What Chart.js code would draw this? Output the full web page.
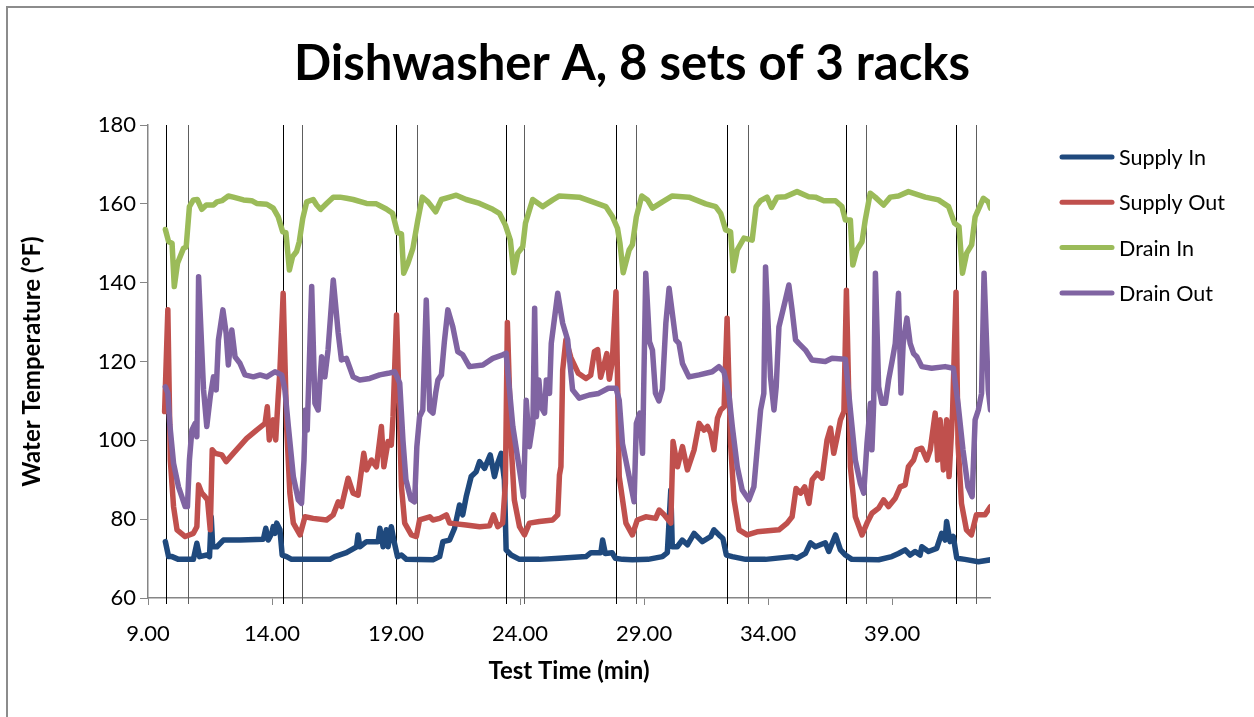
<!DOCTYPE html>
<html>
<head>
<meta charset="utf-8">
<script src="https://cdn.jsdelivr.net/npm/chart.js@4.4.0/dist/chart.umd.min.js"></script>
<style>
  html, body { margin: 0; padding: 0; background: #fff; overflow: hidden; }
  #wrap { position: relative; width: 1254px; height: 717px; }
  #frame { position: absolute; left: 6px; top: 6px; width: 1300px; height: 800px; border: 2px solid #8c8c8c; }
  #chart { position: absolute; left: 0; top: 0; }
</style>
</head>
<body>
<div id="wrap">
  <div id="frame"></div>
  <canvas id="chart" width="1254" height="717"></canvas>
</div>
<script>
// test time (min), temperature (°F)
const supplyIn = [
  [9.70,74.3],[9.83,70.5],[9.97,70.5],[10.23,69.8],[10.83,69.8],[10.97,73.9],[11.08,70.5],[11.37,70.9],
  [11.48,70.5],[11.55,80.6],[11.61,73.0],[11.78,73.0],[12.04,74.7],[12.71,74.7],[13.65,74.9],[13.75,77.7],
  [13.85,74.7],[13.99,76.4],[14.05,78.1],[14.12,76.4],[14.19,79.0],[14.32,77.3],[14.41,70.9],[14.59,70.5],
  [14.79,69.8],[15.13,69.8],[16.33,69.8],[16.53,70.5],[17.00,71.5],[17.41,73.0],[17.47,76.0],[17.54,73.0],
  [17.81,74.3],[18.28,74.3],[18.35,77.7],[18.48,73.0],[18.61,77.3],[18.68,73.0],[18.81,78.1],[18.91,74.7],
  [19.06,70.5],[19.22,70.9],[19.42,69.8],[20.49,69.7],[20.76,70.5],[20.89,74.3],[21.16,74.7],[21.36,77.7],
  [21.56,83.6],[21.69,81.1],[21.83,85.7],[22.03,90.8],[22.23,92.0],[22.37,94.6],[22.57,92.9],[22.80,96.3],
  [22.97,90.8],[23.10,94.2],[23.24,96.7],[23.37,89.9],[23.44,72.2],[23.64,70.9],[23.98,69.8],[24.78,69.8],
  [25.59,70.1],[26.66,70.5],[26.86,71.5],[27.26,71.5],[27.33,74.7],[27.44,71.3],[27.71,71.5],[27.84,70.1],
  [28.13,69.8],[28.53,69.7],[29.16,69.8],[29.74,70.5],[29.94,71.5],[30.08,87.4],[30.14,73.0],[30.34,73.0],
  [30.54,74.7],[30.75,73.5],[31.02,76.4],[31.35,74.3],[31.69,75.6],[31.82,77.3],[32.02,76.0],[32.18,75.1],
  [32.32,70.9],[32.56,70.5],[33.10,69.8],[33.90,69.8],[34.97,70.5],[35.17,70.1],[35.51,71.3],[35.71,74.0],
  [35.91,73.0],[36.31,74.0],[36.45,71.8],[36.72,76.0],[36.92,72.2],[37.12,70.9],[37.38,69.8],[38.46,69.7],
  [38.99,70.5],[39.26,71.3],[39.53,72.2],[39.73,70.9],[39.93,71.8],[40.13,70.9],[40.20,73.0],[40.47,71.8],
  [40.80,72.6],[41.00,76.4],[41.14,74.7],[41.20,79.4],[41.34,74.3],[41.47,75.6],[41.61,70.1],[41.94,69.8],
  [42.48,69.2],[42.97,69.7]
];
const supplyOut = [
  [9.67,107.3],[9.80,133.1],[9.90,95.0],[10.03,83.2],[10.17,77.3],[10.50,75.6],[10.83,76.4],[10.97,78.1],
  [11.04,88.7],[11.17,86.6],[11.30,85.7],[11.40,84.9],[11.51,77.3],[11.59,97.6],[11.71,96.7],[11.98,96.3],
  [12.15,94.6],[12.44,96.7],[12.98,100.5],[13.38,102.6],[13.72,104.3],[13.81,108.5],[13.89,100.1],[14.05,105.2],
  [14.15,100.1],[14.25,111.1],[14.32,117.8],[14.45,137.3],[14.59,103.5],[14.72,86.6],[14.86,79.0],[15.13,76.0],
  [15.33,80.6],[15.66,80.2],[16.20,79.8],[16.47,81.1],[16.67,84.4],[16.80,83.2],[17.07,90.4],[17.27,86.6],
  [17.47,86.1],[17.70,96.7],[17.81,92.5],[18.01,95.0],[18.21,93.3],[18.41,103.5],[18.51,93.3],[18.68,99.7],
  [18.81,98.8],[18.88,106.0],[19.02,131.8],[19.22,88.2],[19.35,79.0],[19.62,76.0],[19.82,75.6],[19.95,79.8],
  [20.36,80.6],[20.49,79.8],[20.76,80.2],[21.03,81.1],[21.16,79.0],[21.83,78.5],[22.37,78.1],[22.77,78.3],
  [22.93,81.1],[23.10,78.1],[23.30,79.0],[23.41,89.1],[23.49,129.9],[23.64,99.2],[23.77,84.9],[23.98,78.1],
  [24.18,76.0],[24.38,79.0],[24.78,79.4],[25.32,79.8],[25.52,81.1],[25.59,91.2],[25.65,93.3],[25.72,117.8],
  [25.85,125.5],[26.05,121.0],[26.35,117.0],[26.66,115.7],[26.85,116.5],[27.00,122.5],[27.13,123.0],[27.25,116.0],
  [27.40,119.5],[27.50,122.0],[27.60,115.5],[27.72,120.0],[27.87,137.7],[28.00,90.8],[28.27,79.0],[28.53,76.0],
  [28.73,79.8],[29.07,80.6],[29.47,80.2],[29.61,82.3],[29.81,81.1],[30.08,79.0],[30.17,99.7],[30.35,93.3],
  [30.55,98.4],[30.75,92.5],[31.02,97.6],[31.22,104.3],[31.42,102.6],[31.56,103.5],[31.69,101.8],[31.82,97.6],
  [31.96,105.6],[32.09,107.7],[32.23,108.5],[32.35,131.0],[32.49,99.2],[32.63,84.9],[32.83,77.3],[33.16,76.0],
  [33.56,76.8],[34.44,77.3],[34.77,79.0],[34.97,80.6],[35.13,87.8],[35.31,86.6],[35.48,88.2],[35.65,84.0],
  [35.78,90.0],[35.98,91.6],[36.18,90.4],[36.38,100.1],[36.52,103.1],[36.65,96.7],[36.79,100.9],[36.92,105.2],
  [37.06,107.3],[37.16,138.1],[37.32,93.3],[37.52,80.6],[37.79,76.0],[37.99,79.0],[38.19,81.5],[38.46,82.8],
  [38.66,84.9],[38.86,83.2],[39.13,85.3],[39.33,88.2],[39.53,88.7],[39.66,93.3],[39.87,95.0],[40.00,97.6],
  [40.20,98.0],[40.40,95.0],[40.54,97.6],[40.74,106.9],[40.84,95.0],[40.94,105.2],[41.07,92.5],[41.20,105.2],
  [41.30,90.8],[41.44,106.9],[41.58,137.6],[41.66,99.2],[41.80,84.0],[42.00,77.3],[42.20,76.0],[42.40,81.1],
  [42.75,81.1],[42.97,83.2]
];
const drainIn = [
  [9.70,153.5],[9.83,150.4],[9.97,150.0],[10.06,139.0],[10.19,144.9],[10.43,148.7],[10.54,149.1],[10.67,159.3],
  [10.83,161.0],[10.99,161.1],[11.17,158.6],[11.35,159.7],[11.64,159.7],[11.78,160.5],[11.98,160.8],[12.24,162.0],
  [12.44,161.7],[12.85,161.0],[13.18,160.8],[13.38,160.1],[13.79,159.9],[14.05,158.9],[14.25,156.7],[14.43,152.9],
  [14.56,152.7],[14.70,143.2],[14.83,146.6],[14.99,147.9],[15.10,150.4],[15.24,156.3],[15.40,160.5],[15.66,161.1],
  [15.80,159.7],[15.96,158.6],[16.20,160.1],[16.47,161.7],[16.74,161.7],[17.01,161.4],[17.27,161.1],[17.81,160.1],
  [18.21,160.0],[18.61,158.7],[18.86,157.6],[19.06,152.7],[19.22,152.4],[19.31,142.4],[19.48,144.9],[19.68,148.7],
  [19.88,155.9],[20.06,161.7],[20.29,160.5],[20.60,158.0],[20.83,161.1],[21.16,161.7],[21.43,162.2],[21.83,161.1],
  [22.37,160.1],[22.90,158.6],[23.17,157.6],[23.41,154.6],[23.61,150.8],[23.75,142.5],[23.91,147.5],[24.11,149.1],
  [24.22,155.1],[24.51,161.1],[24.91,159.3],[25.32,161.0],[25.59,162.0],[26.39,161.7],[26.93,160.5],[27.46,159.3],
  [27.73,156.7],[27.93,153.8],[28.03,150.0],[28.16,142.5],[28.40,148.3],[28.53,149.6],[28.69,156.7],[28.91,162.0],
  [29.14,161.0],[29.34,158.9],[29.74,160.5],[30.14,162.0],[30.81,161.7],[31.49,160.0],[31.89,159.3],[32.09,157.6],
  [32.29,153.4],[32.49,152.9],[32.60,143.0],[32.76,148.3],[33.03,151.3],[33.36,150.8],[33.52,159.3],[33.70,160.8],
  [33.96,161.7],[34.14,159.1],[34.37,161.7],[34.70,161.8],[35.17,163.1],[35.64,161.8],[35.91,161.7],[36.25,160.8],
  [36.72,160.8],[36.98,159.3],[37.12,155.9],[37.32,155.9],[37.42,144.5],[37.58,148.3],[37.79,150.4],[37.92,155.9],
  [38.12,162.7],[38.32,161.7],[38.66,159.7],[38.93,161.7],[39.26,162.0],[39.66,163.1],[40.34,161.7],[40.87,161.0],
  [41.28,159.3],[41.52,155.1],[41.70,154.2],[41.84,142.4],[42.01,147.5],[42.21,149.6],[42.35,156.7],[42.68,161.4],
  [42.88,160.5],[42.97,158.9]
];
const drainOut = [
  [9.70,113.6],[9.80,112.0],[9.88,104.0],[10.03,94.2],[10.23,88.2],[10.50,83.2],[10.59,83.2],[10.67,95.0],
  [10.77,102.6],[10.90,104.3],[10.97,100.9],[11.04,141.5],[11.24,112.8],[11.37,103.5],[11.51,111.1],[11.64,116.1],
  [11.75,112.8],[11.84,125.5],[12.02,133.1],[12.15,127.2],[12.24,119.1],[12.38,128.0],[12.51,121.2],[12.71,119.5],
  [12.91,116.6],[13.25,116.1],[13.52,116.6],[13.79,116.1],[14.12,117.4],[14.39,116.6],[14.52,112.8],[14.66,103.5],
  [14.86,90.8],[15.06,84.9],[15.19,84.0],[15.29,95.0],[15.35,107.7],[15.42,102.6],[15.60,139.0],[15.73,109.4],
  [15.86,107.7],[16.00,121.2],[16.13,116.1],[16.26,122.9],[16.47,140.7],[16.67,127.2],[16.80,120.4],[17.00,120.8],
  [17.27,116.1],[17.54,115.3],[17.94,115.7],[18.34,116.6],[18.68,117.0],[18.95,117.4],[19.15,114.5],[19.28,100.0],
  [19.40,90.0],[19.60,85.0],[19.75,84.4],[19.84,98.4],[19.95,106.0],[20.08,107.7],[20.22,135.6],[20.36,107.7],
  [20.49,106.9],[20.60,112.0],[20.69,115.3],[20.83,116.6],[20.95,125.0],[21.09,133.1],[21.29,128.8],[21.49,122.5],
  [21.69,121.7],[21.96,118.7],[22.50,119.1],[22.90,120.8],[23.30,121.7],[23.44,122.1],[23.71,103.5],[23.98,92.5],
  [24.14,85.7],[24.25,110.2],[24.38,98.4],[24.52,104.3],[24.59,133.5],[24.66,106.0],[24.76,115.3],[24.85,108.5],
  [24.99,106.9],[25.06,115.3],[25.19,111.9],[25.26,124.6],[25.52,137.3],[25.72,129.7],[25.92,125.5],[26.12,112.8],
  [26.39,110.7],[26.79,111.5],[27.17,111.9],[27.56,113.2],[27.87,113.2],[28.00,110.2],[28.13,99.2],[28.40,90.8],
  [28.60,84.4],[28.69,104.3],[28.83,106.9],[28.94,96.7],[29.07,142.4],[29.22,125.0],[29.34,122.9],[29.46,112.0],
  [29.60,110.0],[29.74,113.0],[29.88,129.7],[30.01,138.6],[30.28,125.5],[30.41,124.6],[30.55,119.5],[30.81,116.1],
  [31.22,116.6],[31.75,117.4],[32.02,118.7],[32.22,117.4],[32.42,111.9],[32.56,103.5],[32.76,93.3],[32.96,87.4],
  [33.23,84.9],[33.43,88.2],[33.56,97.6],[33.70,107.7],[33.83,111.9],[33.90,144.0],[34.10,116.1],[34.24,107.7],
  [34.33,113.6],[34.44,128.8],[34.70,135.6],[34.84,139.4],[34.97,133.1],[35.11,125.5],[35.24,124.6],[35.51,122.9],
  [35.77,120.4],[36.31,120.0],[36.58,120.8],[37.12,120.6],[37.32,107.7],[37.52,95.0],[37.72,89.1],[37.86,86.6],
  [37.99,99.2],[38.13,109.4],[38.19,97.6],[38.26,109.4],[38.33,142.4],[38.46,113.6],[38.59,109.4],[38.73,109.4],
  [38.86,115.3],[39.00,120.0],[39.13,124.6],[39.26,137.3],[39.36,112.0],[39.45,124.6],[39.60,131.0],[39.73,124.6],
  [39.87,122.0],[40.00,121.2],[40.20,118.7],[40.60,118.3],[41.14,118.7],[41.47,118.3],[41.66,109.4],[41.86,97.6],
  [42.06,88.2],[42.23,85.7],[42.35,105.2],[42.48,107.7],[42.61,111.9],[42.71,142.4],[42.88,112.8],[42.97,107.7]
];
// rack start / end marks (min)
const rackStart = [9.72, 14.45, 18.98, 23.44, 27.85, 32.34, 37.16, 41.57];
const rackEnd = [10.63, 15.19, 19.83, 24.18, 28.67, 33.18, 37.97, 42.39];
const xTickValues = [9, 14, 19, 24, 29, 34, 39];

const FONT = 'Lato';

const rackLines = {
  id: 'rackLines',
  beforeDatasetsDraw(chart) {
    const ctx = chart.ctx, xs = chart.scales.x;
    const { top, bottom } = chart.chartArea;
    ctx.save();
    ctx.lineWidth = 1;
    [[rackStart, '#000'], [rackEnd, '#5e5e5e']].forEach(([list, col]) => {
      ctx.strokeStyle = col;
      list.forEach(t => {
        const px = Math.round(xs.getPixelForValue(t)) + 0.5;
        ctx.beginPath();
        ctx.moveTo(px, top);
        ctx.lineTo(px, bottom + 6);
        ctx.stroke();
      });
    });
    ctx.restore();
  }
};

const titleAndLegend = {
  id: 'titleAndLegend',
  afterDraw(chart) {
    const ctx = chart.ctx;
    ctx.save();
    ctx.fillStyle = '#000';
    ctx.font = 'bold 49px ' + FONT;
    ctx.textAlign = 'center';
    ctx.textBaseline = 'alphabetic';
    ctx.fillText('Dishwasher A, 8 sets of 3 racks', 632, 80);

    ctx.textAlign = 'left';
    ctx.textBaseline = 'middle';
    ctx.font = '21.5px ' + FONT;
    chart.data.datasets.forEach((ds, i) => {
      const y = 157 + i * 45.3;
      ctx.strokeStyle = ds.borderColor;
      ctx.lineWidth = 5;
      ctx.lineCap = 'round';
      ctx.beginPath();
      ctx.moveTo(1062, y);
      ctx.lineTo(1112, y);
      ctx.stroke();
      ctx.fillText(ds.label, 1119, y + 1);
    });
    ctx.restore();
  }
};

function series(label, pts, color, order) {
  return {
    label: label,
    data: pts.map(p => ({ x: p[0], y: p[1] })),
    borderColor: color,
    backgroundColor: color,
    borderWidth: 5.5,
    pointRadius: 0,
    tension: 0,
    borderJoinStyle: 'round',
    borderCapStyle: 'round',
    order: order
  };
}

const axisGrey = '#868686';

new Chart(document.getElementById('chart'), {
  type: 'line',
  data: {
    datasets: [
      series('Supply In', supplyIn, '#1f497d', 4),
      series('Supply Out', supplyOut, '#c0504d', 3),
      series('Drain In', drainIn, '#9bbb59', 2),
      series('Drain Out', drainOut, '#8064a2', 1)
    ]
  },
  options: {
    responsive: false,
    animation: false,
    devicePixelRatio: 1,
    layout: { padding: { top: 125, right: 264, left: 0, bottom: 0 } },
    plugins: {
      legend: { display: false },
      title: { display: false },
      tooltip: { enabled: false }
    },
    scales: {
      x: {
        type: 'linear',
        min: 9,
        max: 42.95,
        afterBuildTicks: s => { s.ticks = xTickValues.map(v => ({ value: v })); },
        afterFit: s => { s.height = 119; },
        ticks: {
          color: '#000',
          font: { family: FONT, size: 22 },
          padding: 16,
          maxRotation: 0,
          autoSkip: false,
          callback: v => Number(v).toFixed(2)
        },
        grid: { drawOnChartArea: false, drawTicks: true, tickLength: 7, color: axisGrey },
        border: { color: axisGrey, width: 1.5 },
        title: {
          display: true,
          text: 'Test Time (min)',
          color: '#000',
          font: { family: FONT, size: 24, weight: 'bold' },
          padding: { top: 0, bottom: 31 }
        }
      },
      y: {
        min: 60,
        max: 180,
        afterFit: s => { s.width = 148; },
        ticks: {
          stepSize: 20,
          color: '#000',
          font: { family: FONT, size: 22 },
          padding: 4
        },
        grid: { drawOnChartArea: false, drawTicks: true, tickLength: 8, color: axisGrey },
        border: { color: axisGrey, width: 1.5 },
        title: {
          display: true,
          text: 'Water Temperature (°F)',
          color: '#000',
          font: { family: FONT, size: 24, weight: 'bold' },
          padding: { top: 18, bottom: 0 }
        }
      }
    }
  },
  plugins: [rackLines, titleAndLegend]
});
</script>
</body>
</html>
